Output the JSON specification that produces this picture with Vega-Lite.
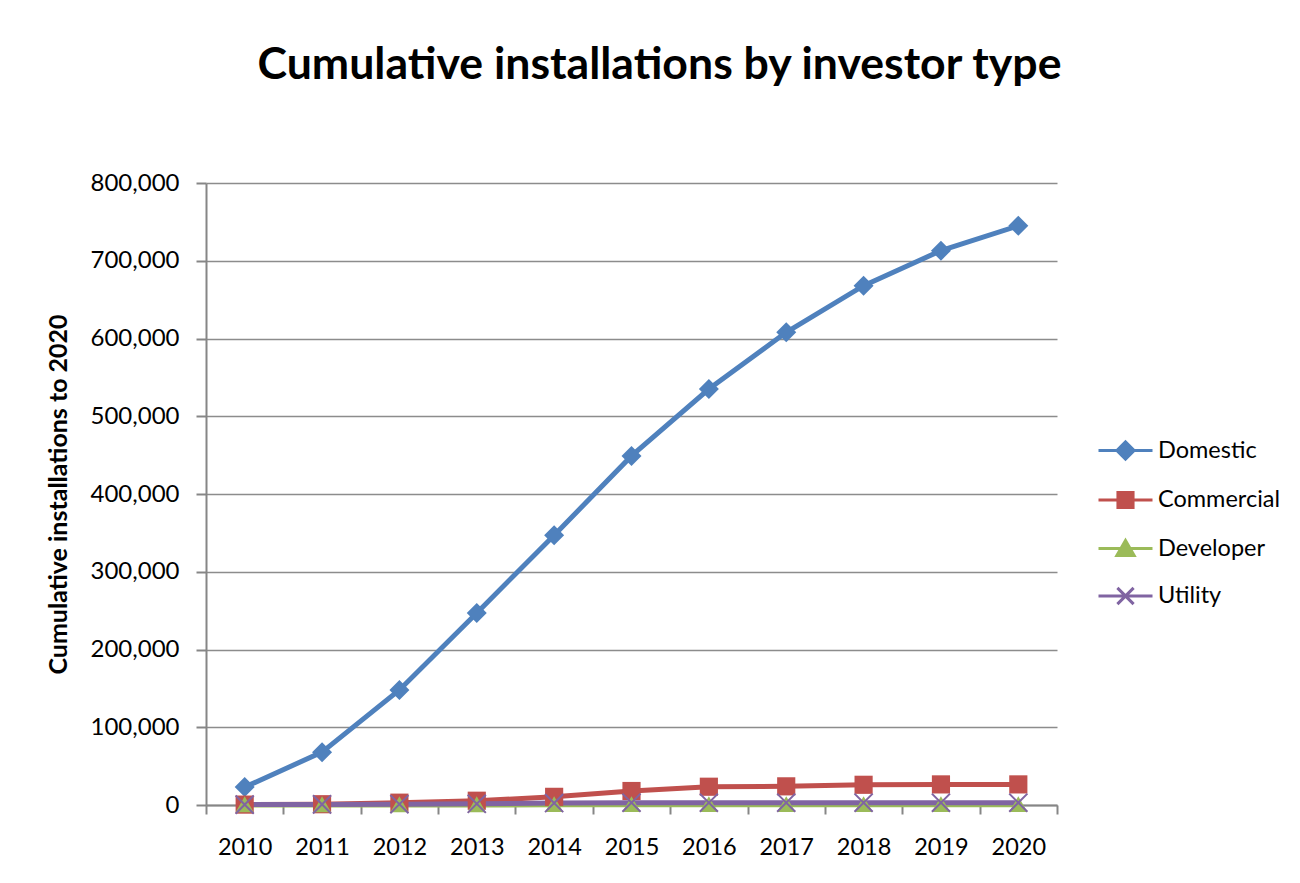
{
  "$schema": "https://vega.github.io/schema/vega-lite/v6.json",
  "width": 851,
  "height": 622,
  "autosize": {"type": "none"},
  "padding": {"left": 206, "top": 183, "right": 243, "bottom": 78},
  "background": "white",
  "config": {
    "view": {"stroke": null},
    "font": "Lato",
    "axis": {"labelFont": "Lato", "titleFont": "Lato"},
    "legend": {"labelFont": "Lato"}
  },
  "title": {
    "text": "Cumulative installations by investor type",
    "font": "Lato",
    "fontSize": 44.6,
    "fontWeight": "bold",
    "color": "black",
    "anchor": "middle",
    "dx": 28,
    "offset": 82
  },
  "data": {
    "values": [
      {"year": 2010, "series": "Domestic", "value": 23000},
      {"year": 2011, "series": "Domestic", "value": 68000},
      {"year": 2012, "series": "Domestic", "value": 148000},
      {"year": 2013, "series": "Domestic", "value": 247000},
      {"year": 2014, "series": "Domestic", "value": 347000},
      {"year": 2015, "series": "Domestic", "value": 449000},
      {"year": 2016, "series": "Domestic", "value": 535000},
      {"year": 2017, "series": "Domestic", "value": 608000},
      {"year": 2018, "series": "Domestic", "value": 668000},
      {"year": 2019, "series": "Domestic", "value": 713000},
      {"year": 2020, "series": "Domestic", "value": 745000},
      {"year": 2010, "series": "Commercial", "value": 500},
      {"year": 2011, "series": "Commercial", "value": 1000},
      {"year": 2012, "series": "Commercial", "value": 3000},
      {"year": 2013, "series": "Commercial", "value": 5500},
      {"year": 2014, "series": "Commercial", "value": 10500},
      {"year": 2015, "series": "Commercial", "value": 18000},
      {"year": 2016, "series": "Commercial", "value": 23500},
      {"year": 2017, "series": "Commercial", "value": 24000},
      {"year": 2018, "series": "Commercial", "value": 26000},
      {"year": 2019, "series": "Commercial", "value": 26500},
      {"year": 2020, "series": "Commercial", "value": 26500},
      {"year": 2010, "series": "Developer", "value": 0},
      {"year": 2011, "series": "Developer", "value": 0},
      {"year": 2012, "series": "Developer", "value": 0},
      {"year": 2013, "series": "Developer", "value": 100},
      {"year": 2014, "series": "Developer", "value": 200},
      {"year": 2015, "series": "Developer", "value": 300},
      {"year": 2016, "series": "Developer", "value": 300},
      {"year": 2017, "series": "Developer", "value": 300},
      {"year": 2018, "series": "Developer", "value": 300},
      {"year": 2019, "series": "Developer", "value": 300},
      {"year": 2020, "series": "Developer", "value": 300},
      {"year": 2010, "series": "Utility", "value": 500},
      {"year": 2011, "series": "Utility", "value": 800},
      {"year": 2012, "series": "Utility", "value": 1000},
      {"year": 2013, "series": "Utility", "value": 1500},
      {"year": 2014, "series": "Utility", "value": 2500},
      {"year": 2015, "series": "Utility", "value": 3000},
      {"year": 2016, "series": "Utility", "value": 3000},
      {"year": 2017, "series": "Utility", "value": 3000},
      {"year": 2018, "series": "Utility", "value": 3000},
      {"year": 2019, "series": "Utility", "value": 3000},
      {"year": 2020, "series": "Utility", "value": 3000}
    ]
  },
  "encoding": {
    "x": {
      "field": "year",
      "type": "quantitative",
      "scale": {"domain": [2009.5, 2020.5], "nice": false, "zero": false},
      "axis": {
        "title": null,
        "values": [2009.5, 2010.5, 2011.5, 2012.5, 2013.5, 2014.5, 2015.5, 2016.5, 2017.5, 2018.5, 2019.5, 2020.5],
        "labelExpr": "datum.value < 2020 ? format(datum.value + 0.5, 'd') : ''",
        "labelOffset": 38.7,
        "labelOverlap": false,
        "labelFlush": false,
        "labelBound": false,
        "labelFontSize": 23.5,
        "labelColor": "black",
        "labelPadding": 21,
        "tickSize": 9,
        "tickColor": "#868686",
        "tickWidth": 2,
        "domainColor": "#868686",
        "domainWidth": 2,
        "grid": false
      }
    },
    "y": {
      "field": "value",
      "type": "quantitative",
      "scale": {"domain": [0, 800000], "nice": false},
      "axis": {
        "title": "Cumulative installations  to 2020",
        "titleFontSize": 25,
        "titleFontWeight": "bold",
        "titleColor": "black",
        "titlePadding": 19,
        "values": [0, 100000, 200000, 300000, 400000, 500000, 600000, 700000, 800000],
        "format": ",d",
        "labelFontSize": 24,
        "labelColor": "black",
        "labelPadding": 17,
        "tickSize": 10,
        "tickColor": "#868686",
        "tickWidth": 2,
        "domainColor": "#868686",
        "domainWidth": 2,
        "grid": true,
        "gridColor": "#8c8c8c",
        "gridWidth": 1.5
      }
    }
  },
  "layer": [
    {
      "mark": {"type": "line", "strokeWidth": 5},
      "encoding": {
        "color": {
          "field": "series",
          "type": "nominal",
          "scale": {"domain": ["Domestic", "Commercial", "Developer", "Utility"], "range": ["#4F81BD", "#C0504D", "#9BBB59", "#8064A2"]},
          "legend": {
            "title": null,
            "orient": "none",
            "legendX": 891,
            "legendY": 239,
            "symbolSize": 2916,
            "labelFontSize": 23.5,
            "labelColor": "black",
            "labelOffset": 4,
            "rowPadding": 5.5,
            "symbolType": "M-1,0L1,0M-0.32,0L0,-0.32L0.32,0L0,0.32Z",
            "encode": {
              "symbols": {
                "update": {
                  "shape": {"signal": "datum.value === 'Domestic' ? 'M-1,0L1,0M-0.32,0L0,-0.32L0.32,0L0,0.32Z' : datum.value === 'Commercial' ? 'M-1,0L1,0M-0.28,-0.28L0.28,-0.28L0.28,0.28L-0.28,0.28Z' : datum.value === 'Developer' ? 'M-1,0L1,0M0,-0.3L0.32,0.26L-0.32,0.26Z' : 'M-1,0L1,0M-0.3,-0.3L0.3,0.3M0.3,-0.3L-0.3,0.3'"},
                  "size": {"value": 2916},
                  "strokeWidth": {"value": 3},
                  "stroke": {"scale": "color", "field": "value"},
                  "fill": {"scale": "color", "field": "value"},
                  "opacity": {"value": 1},
                  "fillOpacity": {"value": 1}
                }
              }
            }
          }
        }
      }
    },
    {
      "transform": [{"filter": "datum.series === 'Domestic'"}],
      "mark": {"type": "point", "filled": true, "size": 400, "color": "#4F81BD", "opacity": 1, "shape": "M-1,0L0,-1L1,0L0,1Z"}
    },
    {
      "transform": [{"filter": "datum.series === 'Commercial'"}],
      "mark": {"type": "point", "filled": true, "size": 330, "color": "#C0504D", "opacity": 1, "shape": "M-1,-1L1,-1L1,1L-1,1Z"}
    },
    {
      "transform": [{"filter": "datum.series === 'Developer'"}],
      "mark": {"type": "point", "filled": true, "size": 330, "color": "#9BBB59", "opacity": 1, "shape": "M0,-0.95L1,0.8L-1,0.8Z"}
    },
    {
      "transform": [{"filter": "datum.series === 'Utility'"}],
      "mark": {"type": "point", "filled": false, "size": 330, "color": "#8064A2", "strokeWidth": 2, "opacity": 1, "shape": "M-1,-1L1,1M1,-1L-1,1"}
    }
  ]
}
